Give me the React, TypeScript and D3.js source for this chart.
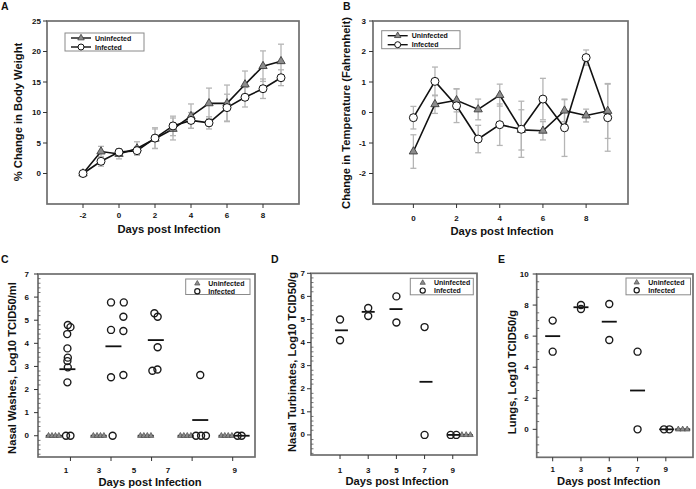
import React from "react";
import * as d3 from "d3";

// ---------------- Data ----------------
// Panel A: % change in body weight
const weightDays = [-2, -1, 0, 1, 2, 3, 4, 5, 6, 7, 8, 9];
const weightUninfected = [0, 3.6, 3.2, 4.1, 5.7, 7.3, 9.4, 11.5, 11.5, 14.6, 17.6, 18.4];
const weightUninfectedSd = [0, 0.85, 0.8, 1.1, 1.6, 1.8, 2.0, 2.5, 3.0, 2.2, 2.5, 2.8];
const weightInfected = [0, 2.0, 3.5, 3.75, 5.8, 7.8, 8.7, 8.3, 10.8, 12.5, 13.9, 15.7];
const weightInfectedSd = [0, 0.8, 0.5, 0.65, 1.7, 1.6, 1.3, 1.0, 2.2, 1.6, 1.6, 1.3];
const weightXTicks = [-2, 0, 2, 4, 6, 8];
const weightYTicks = [0, 5, 10, 15, 20, 25];

// Panel B: change in temperature
const tempDays = [0, 1, 2, 3, 4, 5, 6, 7, 8, 9];
const tempUninfected = [-1.28, 0.27, 0.4, 0.1, 0.57, -0.57, -0.6, 0.06, -0.1, 0.05];
const tempUninfectedSd = [0.55, 0.3, 0.38, 0.34, 0.36, 0.66, 0.3, 0.36, 0.21, 0.9];
const tempInfected = [-0.17, 1.02, 0.22, -0.87, -0.4, -0.55, 0.44, -0.5, 1.8, -0.17];
const tempInfectedSd = [0.37, 0.47, 0.55, 0.45, 0.68, 0.92, 0.68, 0.94, 0.25, 1.1];
const tempXTicks = [0, 2, 4, 6, 8];
const tempYTicks = [-2, -1, 0, 1, 2, 3];

// Panel C: nasal washes (x = plotted day position, y = log10 titre)
const washInfX = [0.87, 1.0, 0.84, 0.85, 0.87, 0.85, 0.87, 0.85, 0.78, 1.0,
  3.0, 3.63, 3.61, 3.0, 3.61, 3.61, 3.0, 3.08,
  5.14, 5.3, 5.3, 5.04, 5.29,
  7.19, 7.44, 7.68, 7.4,
  9.24, 9.44];
const washInfY = [4.79, 4.70, 4.40, 3.78, 3.38, 3.23, 2.96, 2.31, 0, 0,
  5.77, 5.77, 5.15, 4.58, 4.53, 2.63, 2.53, 0,
  5.30, 5.15, 3.83, 2.81, 2.87,
  0, 0, 0, 2.63,
  0, 0];
const washUninfX = [-0.08, 0.09, 0.26, 0.43, 2.13, 2.31, 2.48, 2.65, 4.45, 4.62, 4.79, 4.97,
  6.42, 6.59, 6.76, 6.94, 8.44, 8.61, 8.78, 8.96];
const washUninfY = [0, 0, 0, 0, 0, 0, 0, 0, 0, 0, 0, 0, 0, 0, 0, 0, 0, 0, 0, 0];
const washInfBarX = [0.85, 3.12, 5.21, 7.4, 9.44];
const washInfBarY = [2.88, 3.87, 4.14, 0.68, 0];
const washUninfBarX = [0.18, 2.39, 4.71, 6.68, 8.7];
const washUninfBarY = [0, 0, 0, 0, 0];
const washTickDays = [1, 3, 5, 7, 9];
const washTickLabelAt = [0.78, 2.41, 4.13, 5.81, 9.1];
const washYTicks = [0, 1, 2, 3, 4, 5, 6, 7];

// Panel D: nasal turbinates
const turbInfX = [1, 1, 3, 3, 5, 5, 7, 7, 8.85, 9.25];
const turbInfY = [5.0, 4.1, 5.5, 5.15, 6.0, 4.87, 4.67, 0, 0, 0];
const turbUninfX = [9.65, 9.95, 10.25];
const turbUninfY = [0, 0, 0];
const turbInfBarX = [1.1, 3.0, 4.97, 7.1, 9.05];
const turbInfBarY = [4.53, 5.33, 5.45, 2.3, 0];
const turbUninfBarX = [9.95];
const turbUninfBarY = [0];
const turbTickDays = [1, 3, 5, 7, 9];
const turbYTicks = [0, 1, 2, 3, 4, 5, 6, 7];

// Panel E: lungs
const lungInfX = [1, 1, 3, 3, 5, 5, 7, 7, 8.87, 9.25];
const lungInfY = [7.0, 5.0, 8.0, 7.75, 8.07, 5.75, 5.0, 0, 0, 0];
const lungUninfX = [9.88, 10.19, 10.51];
const lungUninfY = [0, 0, 0];
const lungInfBarX = [1, 3, 5, 7, 9.06];
const lungInfBarY = [6.0, 7.86, 6.93, 2.5, 0];
const lungUninfBarX = [10.19];
const lungUninfBarY = [0];
const lungTickDays = [1, 3, 5, 7, 9];
const lungYTicks = [0, 2, 4, 6, 8, 10];

const seriesNames = ["Uninfected", "Infected"];

// ---------------- Styles ----------------
const FONT = "'Liberation Sans', Arial, Helvetica, sans-serif";
const FRAME_COLOR = "#6e6e6e";
const ERR_COLOR = "#b5b5b5";
const TRI_FILL = "#8c8c8c";
const TRI_STROKE = "#3c3c3c";
const TEXT = "#111";

type Scale = d3.ScaleLinear<number, number>;

const triangle = (size: number) => d3.symbol().type(d3.symbolTriangle).size(size)() as string;

function Frame({ x, y }: { x: Scale; y: Scale }) {
  const [x0, x1] = x.range();
  const [yb, yt] = y.range();
  return <rect x={x0} y={yt} width={x1 - x0} height={yb - yt} fill="none" stroke={FRAME_COLOR} strokeWidth={1.7} />;
}

function YAxis({ x, y, ticks, gap, minorStep }: { x: Scale; y: Scale; ticks: number[]; gap: number; minorStep?: number }) {
  const x0 = x.range()[0];
  const [d0, d1] = y.domain();
  const minor = minorStep
    ? d3.range(Math.ceil(d0 / minorStep) * minorStep, d1 + 1e-9, minorStep).filter(
        (v) => Math.abs(v - Math.round(v / (ticks[1] - ticks[0])) * (ticks[1] - ticks[0])) > 1e-6
      )
    : [];
  return (
    <g>
      {ticks.map((t) => (
        <g key={t}>
          <line x1={x0 - 4} x2={x0} y1={y(t)} y2={y(t)} stroke="#333" strokeWidth={1} />
          <text x={x0 - gap} y={y(t)} textAnchor="end" dominantBaseline="central" fontSize={8} fontWeight="bold" fill={TEXT}>
            {t}
          </text>
        </g>
      ))}
      {minor.map((t, i) => (
        <line key={"m" + i} x1={x0} x2={x0 + 2.5} y1={y(t)} y2={y(t)} stroke="#555" strokeWidth={0.8} />
      ))}
    </g>
  );
}

function XAxis({ x, y, ticks, labelAt, labels, labelY }: { x: Scale; y: Scale; ticks: number[]; labelAt?: number[]; labels?: string[]; labelY: number }) {
  const yb = y.range()[0];
  const at = labelAt || ticks;
  return (
    <g>
      {ticks.map((t) => (
        <line key={t} x1={x(t)} x2={x(t)} y1={yb} y2={yb + 4} stroke="#333" strokeWidth={1} />
      ))}
      {at.map((t, i) => (
        <text key={"l" + i} x={x(t)} y={labelY} textAnchor="middle" dominantBaseline="central" fontSize={8} fontWeight="bold" fill={TEXT}>
          {labels ? labels[i] : String(ticks[i])}
        </text>
      ))}
    </g>
  );
}

function Titles({ xTitle, xTitleX, xTitleY, yTitle, yTitleX, yTitleY }: { xTitle: string; xTitleX: number; xTitleY: number; yTitle: string; yTitleX: number; yTitleY: number }) {
  return (
    <g fontWeight="bold" fontSize={11.2} fill={TEXT}>
      <text x={xTitleX} y={xTitleY} textAnchor="middle" dominantBaseline="central">
        {xTitle}
      </text>
      <text transform={`translate(${yTitleX},${yTitleY}) rotate(-90)`} textAnchor="middle" dominantBaseline="central">
        {yTitle}
      </text>
    </g>
  );
}

type LineSeries = { values: number[]; sd: number[]; kind: "tri" | "circ" };

function LinePanel(props: {
  x: Scale;
  y: Scale;
  days: number[];
  series: LineSeries[];
  xTicks: number[];
  yTicks: number[];
  yGap: number;
  xLabelY: number;
  xTitleX: number;
  xTitleY: number;
  yTitle: string;
  yTitleX: number;
  yTitleY: number;
  legend: { x: number; y: number; w: number; h: number };
}) {
  const { x, y, days, series, legend } = props;
  const line = d3
    .line<number>()
    .x((_, i) => x(days[i]))
    .y((v) => y(v));
  const tri = triangle(30);
  const marker = (kind: "tri" | "circ", cx: number, cy: number, key: string) =>
    kind === "tri" ? (
      <path key={key} d={tri} transform={`translate(${cx},${cy})`} fill={TRI_FILL} stroke={TRI_STROKE} strokeWidth={0.9} />
    ) : (
      <circle key={key} cx={cx} cy={cy} r={4} fill="#fff" stroke="#111" strokeWidth={1} />
    );
  return (
    <g>
      <Frame x={x} y={y} />
      <YAxis x={x} y={y} ticks={props.yTicks} gap={props.yGap} />
      <XAxis x={x} y={y} ticks={props.xTicks} labelY={props.xLabelY} />
      {series.map((s, si) =>
        days.map((d, i) => {
          if (!(s.sd[i] > 0)) return null;
          const cx = x(d);
          const lo = y(s.values[i] - s.sd[i]);
          const hi = y(s.values[i] + s.sd[i]);
          return (
            <g key={`e${si}-${i}`} stroke={ERR_COLOR} strokeWidth={1.3}>
              <line x1={cx} x2={cx} y1={lo} y2={hi} />
              <line x1={cx - 3} x2={cx + 3} y1={lo} y2={lo} />
              <line x1={cx - 3} x2={cx + 3} y1={hi} y2={hi} />
            </g>
          );
        })
      )}
      {series.map((s, si) => (
        <path key={"l" + si} d={line(s.values) || ""} fill="none" stroke="#111" strokeWidth={1.6} />
      ))}
      {series.map((s, si) => s.values.map((v, i) => marker(s.kind, x(days[i]), y(v), `m${si}-${i}`)))}
      <g>
        <rect x={legend.x} y={legend.y} width={legend.w} height={legend.h} fill="#fff" stroke="#8a8a8a" strokeWidth={1} />
        {series.map((s, si) => {
          const ry = legend.y + 5 + si * 9;
          return (
            <g key={"lg" + si}>
              <line x1={legend.x + 6} x2={legend.x + 26} y1={ry} y2={ry} stroke="#111" strokeWidth={1.4} />
              {s.kind === "tri" ? (
                <path d={triangle(18)} transform={`translate(${legend.x + 16},${ry})`} fill={TRI_FILL} stroke={TRI_STROKE} strokeWidth={0.8} />
              ) : (
                <circle cx={legend.x + 16} cy={ry} r={3} fill="#fff" stroke="#111" strokeWidth={1} />
              )}
              <text x={legend.x + 30} y={ry} dominantBaseline="central" fontSize={7} fontWeight="bold" fill={TEXT}>
                {seriesNames[si]}
              </text>
            </g>
          );
        })}
      </g>
      <Titles
        xTitle="Days post Infection"
        xTitleX={props.xTitleX}
        xTitleY={props.xTitleY}
        yTitle={props.yTitle}
        yTitleX={props.yTitleX}
        yTitleY={props.yTitleY}
      />
    </g>
  );
}

function ScatterPanel(props: {
  x: Scale;
  y: Scale;
  infX: number[];
  infY: number[];
  uninfX: number[];
  uninfY: number[];
  infBarX: number[];
  infBarY: number[];
  uninfBarX: number[];
  uninfBarY: number[];
  barW: number;
  tickDays: number[];
  tickLabelAt?: number[];
  yTicks: number[];
  minorStep: number;
  yGap: number;
  xLabelY: number;
  xTitleX: number;
  xTitleY: number;
  yTitle: string;
  yTitleX: number;
  yTitleY: number;
  legend: { x: number; y: number; w: number; h: number; mx: number; tx: number };
}) {
  const { x, y, legend } = props;
  const tri = triangle(14);
  return (
    <g>
      <Frame x={x} y={y} />
      <YAxis x={x} y={y} ticks={props.yTicks} gap={props.yGap} minorStep={props.minorStep} />
      <XAxis
        x={x}
        y={y}
        ticks={props.tickDays}
        labelAt={props.tickLabelAt}
        labels={props.tickDays.map(String)}
        labelY={props.xLabelY}
      />
      {props.uninfBarX.map((bx, i) => (
        <line key={"ub" + i} x1={x(bx) - props.barW / 2} x2={x(bx) + props.barW / 2} y1={y(props.uninfBarY[i])} y2={y(props.uninfBarY[i])} stroke="#111" strokeWidth={1.8} />
      ))}
      {props.infBarX.map((bx, i) => (
        <line key={"ib" + i} x1={x(bx) - props.barW / 2} x2={x(bx) + props.barW / 2} y1={y(props.infBarY[i])} y2={y(props.infBarY[i])} stroke="#111" strokeWidth={1.8} />
      ))}
      {props.uninfX.map((ux, i) => (
        <path key={"u" + i} d={tri} transform={`translate(${x(ux)},${y(props.uninfY[i])})`} fill={TRI_FILL} stroke="#4a4a4a" strokeWidth={0.7} />
      ))}
      {props.infX.map((ix, i) => (
        <circle key={"c" + i} cx={x(ix)} cy={y(props.infY[i])} r={3.5} fill="none" stroke="#1a1a1a" strokeWidth={1.4} />
      ))}
      <g>
        <rect x={legend.x} y={legend.y} width={legend.w} height={legend.h} fill="#fff" stroke="#8a8a8a" strokeWidth={1} />
        <path d={triangle(12)} transform={`translate(${legend.x + legend.mx},${legend.y + 4.5})`} fill={TRI_FILL} stroke="#4a4a4a" strokeWidth={0.7} />
        <circle cx={legend.x + legend.mx} cy={legend.y + 12.3} r={2.6} fill="none" stroke="#1a1a1a" strokeWidth={1.2} />
        {seriesNames.map((n, i) => (
          <text key={n} x={legend.x + legend.tx} y={legend.y + 4.5 + i * 7.8} dominantBaseline="central" fontSize={7} fontWeight="bold" fill={TEXT}>
            {n}
          </text>
        ))}
      </g>
      <Titles
        xTitle="Days post Infection"
        xTitleX={props.xTitleX}
        xTitleY={props.xTitleY}
        yTitle={props.yTitle}
        yTitleX={props.yTitleX}
        yTitleY={props.yTitleY}
      />
    </g>
  );
}

export default function App() {
  const ax = d3.scaleLinear().domain([-4, 10]).range([47, 299]);
  const ay = d3.scaleLinear().domain([-5, 25]).range([204, 21]);
  const bx = d3.scaleLinear().domain([-1.87, 9.94]).range([373, 628]);
  const by = d3.scaleLinear().domain([-3, 3]).range([204, 21]);
  const cx = d3.scaleLinear().domain([-0.6, 10.1]).range([38, 255]);
  const cy = d3.scaleLinear().domain([-0.92, 7]).range([457, 274]);
  const dx = d3.scaleLinear().domain([-1.06, 10.72]).range([311, 477]);
  const dy = d3.scaleLinear().domain([-0.87, 7]).range([455, 273.3]);
  const ex = d3.scaleLinear().domain([-0.13, 10.92]).range([536.7, 693]);
  const ey = d3.scaleLinear().domain([-1.8, 10]).range([457.3, 274]);

  return (
    <svg
      width={696}
      height={489}
      viewBox="0 0 696 489"
      style={{ position: "absolute", left: 0, top: 0, background: "#fff", fontFamily: FONT }}
    >
      <rect x={0} y={0} width={696} height={489} fill="#fff" />
      <g fontWeight="bold" fontSize={10.5} fill={TEXT}>
        <text x={1} y={10}>A</text>
        <text x={343} y={10}>B</text>
        <text x={1} y={263}>C</text>
        <text x={271} y={263}>D</text>
        <text x={498} y={263}>E</text>
      </g>

      <LinePanel
        x={ax}
        y={ay}
        days={weightDays}
        series={[
          { values: weightUninfected, sd: weightUninfectedSd, kind: "tri" },
          { values: weightInfected, sd: weightInfectedSd, kind: "circ" },
        ]}
        xTicks={weightXTicks}
        yTicks={weightYTicks}
        yGap={6}
        xLabelY={215}
        xTitleX={169}
        xTitleY={228.5}
        yTitle="% Change in Body Weight"
        yTitleX={17.5}
        yTitleY={112}
        legend={{ x: 65, y: 33, w: 79, h: 18 }}
      />

      <LinePanel
        x={bx}
        y={by}
        days={tempDays}
        series={[
          { values: tempUninfected, sd: tempUninfectedSd, kind: "tri" },
          { values: tempInfected, sd: tempInfectedSd, kind: "circ" },
        ]}
        xTicks={tempXTicks}
        yTicks={tempYTicks}
        yGap={7}
        xLabelY={218.5}
        xTitleX={502}
        xTitleY={231}
        yTitle="Change in Temperature (Fahrenheit)"
        yTitleX={346}
        yTitleY={113}
        legend={{ x: 381.7, y: 30.7, w: 78.3, h: 18 }}
      />

      <ScatterPanel
        x={cx}
        y={cy}
        infX={washInfX}
        infY={washInfY}
        uninfX={washUninfX}
        uninfY={washUninfY}
        infBarX={washInfBarX}
        infBarY={washInfBarY}
        uninfBarX={washUninfBarX}
        uninfBarY={washUninfBarY}
        barW={16}
        tickDays={washTickDays}
        tickLabelAt={washTickLabelAt}
        yTicks={washYTicks}
        minorStep={0.2}
        yGap={9}
        xLabelY={470.7}
        xTitleX={150}
        xTitleY={481.7}
        yTitle="Nasal Washes, Log10 TCID50/ml"
        yTitleX={11.7}
        yTitleY={368}
        legend={{ x: 185.7, y: 279, w: 64.3, h: 15.5, mx: 11.6, tx: 22.6 }}
      />

      <ScatterPanel
        x={dx}
        y={dy}
        infX={turbInfX}
        infY={turbInfY}
        uninfX={turbUninfX}
        uninfY={turbUninfY}
        infBarX={turbInfBarX}
        infBarY={turbInfBarY}
        uninfBarX={turbUninfBarX}
        uninfBarY={turbUninfBarY}
        barW={13}
        tickDays={turbTickDays}
        yTicks={turbYTicks}
        minorStep={0.2}
        yGap={6}
        xLabelY={470}
        xTitleX={397}
        xTitleY={481}
        yTitle="Nasal Turbinates, Log10 TCID50/g"
        yTitleX={291.7}
        yTitleY={362}
        legend={{ x: 410.3, y: 278.3, w: 63, h: 16.5, mx: 12.4, tx: 23.7 }}
      />

      <ScatterPanel
        x={ex}
        y={ey}
        infX={lungInfX}
        infY={lungInfY}
        uninfX={lungUninfX}
        uninfY={lungUninfY}
        infBarX={lungInfBarX}
        infBarY={lungInfBarY}
        uninfBarX={lungUninfBarX}
        uninfBarY={lungUninfBarY}
        barW={15}
        tickDays={lungTickDays}
        yTicks={lungYTicks}
        minorStep={0.5}
        yGap={8}
        xLabelY={469.3}
        xTitleX={608.7}
        xTitleY={481}
        yTitle="Lungs, Log10 TCID50/g"
        yTitleX={511.7}
        yTitleY={372}
        legend={{ x: 626, y: 278, w: 64.5, h: 16.8, mx: 10.7, tx: 22.3 }}
      />
    </svg>
  );
}
